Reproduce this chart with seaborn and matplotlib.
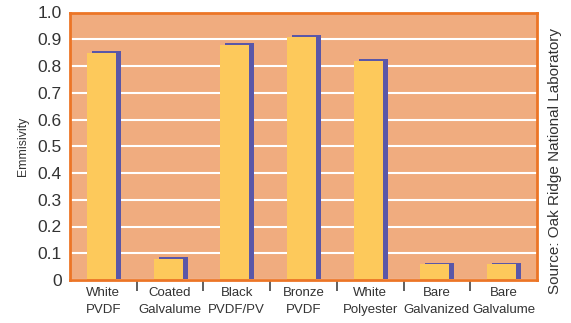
import matplotlib
matplotlib.use("Agg")
import matplotlib.pyplot as plt
import matplotlib.transforms as mtransforms
import seaborn as sns
import pandas as pd
import numpy as np

# Roofing materials and their measured emissivity
materials = ["White\nPVDF", "Coated\nGalvalume", "Black\nPVDF/PV", "Bronze\nPVDF",
             "White\nPolyester", "Bare\nGalvanized", "Bare\nGalvalume"]
emissivity = [0.85, 0.08, 0.88, 0.91, 0.82, 0.06, 0.06]
y_ticks = [0.0, 0.1, 0.2, 0.3, 0.4, 0.5, 0.6, 0.7, 0.8, 0.9, 1.0]
y_tick_labels = ["0", "0.1", "0.2", "0.3", "0.4", "0.5", "0.6", "0.7", "0.8", "0.9", "1.0"]

df = pd.DataFrame({"material": materials, "emissivity": emissivity})

sns.set_theme(style="white")
plt.rcParams["font.family"] = ["Liberation Sans", "DejaVu Sans"]

BG = "#F0AC7F"
EDGE = "#EC7526"
BAR = "#FDC95B"
SHADOW = "#5A57A8"
TEXT = "#333333"

fig = plt.figure(figsize=(5.71, 3.23), dpi=100)
ax = fig.add_axes([70 / 571, 43 / 323, 467 / 571, 267.5 / 323])
ax.set_facecolor(BG)

# shadow bars, shifted right and slightly up behind the main bars
sns.barplot(data=df, x="material", y="emissivity", color=SHADOW, width=0.435,
            saturation=1, ax=ax, zorder=2)
n_shadow = len(ax.patches)
sns.barplot(data=df, x="material", y="emissivity", color=BAR, width=0.435,
            saturation=1, ax=ax, zorder=3)

shadow_shift = mtransforms.ScaledTranslation(3 / 100, 1.3 / 100, fig.dpi_scale_trans)
bar_shift = mtransforms.ScaledTranslation(-2 / 100, 0, fig.dpi_scale_trans)
for i, p in enumerate(ax.patches):
    p.set_linewidth(0)
    if i < n_shadow:
        p.set_transform(ax.transData + shadow_shift)
    else:
        p.set_transform(ax.transData + bar_shift)

ax.set_xlim(-0.5, len(materials) - 0.5)
ax.set_ylim(0, 1.0)
ax.set_yticks(y_ticks)
ax.set_yticklabels(y_tick_labels, fontsize=12.5, color=TEXT)
ax.yaxis.grid(True, color="white", linewidth=1.5, zorder=1)
ax.set_axisbelow(True)

ax.set_xticks(range(len(materials)))
ax.set_xticklabels(materials, fontsize=9.5, color=TEXT, linespacing=1.55)
ax.set_xticks(np.arange(0.5, len(materials) - 1, 1.0), minor=True)
ax.tick_params(axis="x", which="major", bottom=True, length=0, pad=5)
ax.tick_params(axis="x", which="minor", bottom=True, length=8, width=1.2,
               color="#444444", direction="out", pad=0)
ax.tick_params(axis="y", length=0, pad=6)

for s in ax.spines.values():
    s.set_visible(True)
    s.set_color(EDGE)
    s.set_linewidth(2)
    s.set_zorder(5)

ax.set_xlabel("")
ax.set_ylabel("Emmisivity", fontsize=8.8, color=TEXT, labelpad=6)

fig.text(555 / 571, 0.5, "Source: Oak Ridge National Laboratory", rotation=90,
         ha="center", va="center", fontsize=11, color=TEXT)

fig.savefig("out.png", dpi=100, facecolor="white")
